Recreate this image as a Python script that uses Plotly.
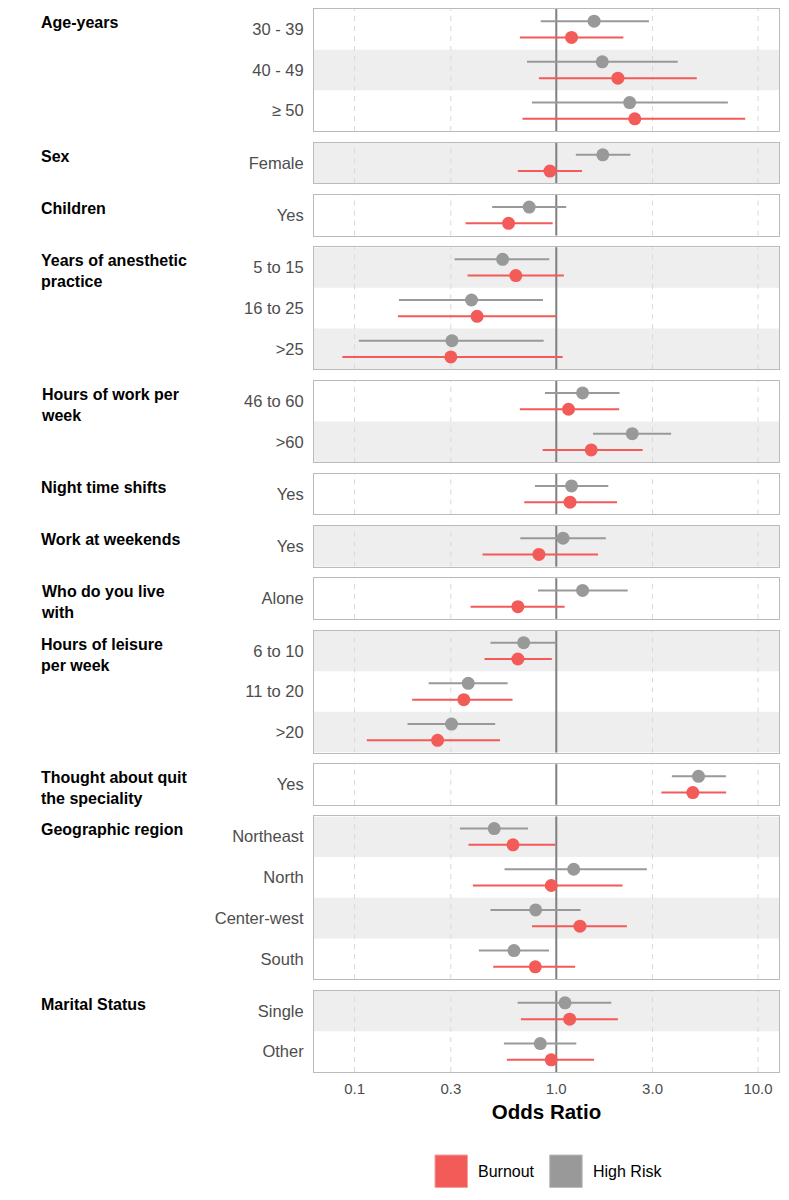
import math
import plotly.graph_objects as go
from plotly.subplots import make_subplots

# ---------------- data ----------------
group_names = [
    "Age-years", "Sex", "Children", "Years of anesthetic<br>practice",
    "Hours of work per<br>week", "Night time shifts", "Work at weekends",
    "Who do you live<br>with", "Hours of leisure<br>per week",
    "Thought about quit<br>the speciality", "Geographic region", "Marital Status",
]
group_sizes = [3, 1, 1, 3, 2, 1, 1, 1, 3, 1, 4, 2]
categories = [
    "30 - 39", "40 - 49", "≥ 50",
    "Female",
    "Yes",
    "5 to 15", "16 to 25", ">25",
    "46 to 60", ">60",
    "Yes",
    "Yes",
    "Alone",
    "6 to 10", "11 to 20", ">20",
    "Yes",
    "Northeast", "North", "Center-west", "South",
    "Single", "Other",
]
burnout_or = [1.19, 2.02, 2.45, 0.93, 0.58, 0.63, 0.405, 0.30, 1.15, 1.49, 1.17, 0.82,
              0.645, 0.645, 0.348, 0.258, 4.75, 0.61, 0.944, 1.31, 0.787, 1.165, 0.944]
burnout_lo = [0.66, 0.82, 0.68, 0.645, 0.355, 0.363, 0.164, 0.087, 0.66, 0.856, 0.694, 0.431,
              0.376, 0.441, 0.193, 0.115, 3.32, 0.367, 0.386, 0.758, 0.487, 0.668, 0.569]
burnout_hi = [2.15, 4.97, 8.64, 1.34, 0.96, 1.09, 1.0, 1.075, 2.05, 2.68, 2.0, 1.61,
              1.10, 0.95, 0.607, 0.526, 6.95, 0.99, 2.13, 2.24, 1.24, 2.02, 1.54]
highrisk_or = [1.54, 1.69, 2.31, 1.70, 0.734, 0.542, 0.38, 0.304, 1.35, 2.38, 1.19, 1.08,
               1.35, 0.689, 0.366, 0.3025, 5.07, 0.4925, 1.22, 0.79, 0.617, 1.105, 0.833]
highrisk_lo = [0.837, 0.716, 0.758, 1.25, 0.481, 0.313, 0.166, 0.105, 0.879, 1.52, 0.784, 0.663,
               0.811, 0.472, 0.233, 0.183, 3.74, 0.333, 0.554, 0.472, 0.4135, 0.643, 0.55]
highrisk_hi = [2.88, 4.0, 7.09, 2.33, 1.12, 0.923, 0.859, 0.866, 2.06, 3.71, 1.81, 1.76,
               2.26, 1.0, 0.574, 0.498, 6.93, 0.724, 2.81, 1.32, 0.92, 1.875, 1.257]
x_ticks = [0.1, 0.3, 1, 3, 10]
x_tick_labels = ["0.1", "0.3", "1.0", "3.0", "10.0"]
reference_or = 1
series = [
    ("High Risk", highrisk_or, highrisk_lo, highrisk_hi, "#999999", -0.2),
    ("Burnout", burnout_or, burnout_lo, burnout_hi, "#F25B57", 0.2),
]

# ---------------- figure ----------------
FONT = "Liberation Sans, Arial, sans-serif"
W, H = 789, 1200
ML, MR, MT, MB = 314, 10, 9, 128
PH = H - MT - MB
PW = W - ML - MR

n_groups = len(group_names)
fig = make_subplots(rows=n_groups, cols=1, shared_xaxes=True,
                    row_heights=group_sizes, vertical_spacing=11.6 / PH)

start = 0
for g in range(n_groups):
    r = g + 1
    n = group_sizes[g]
    sfx = "" if r == 1 else str(r)
    cats = categories[start:start + n]
    # alternating row shading (global)
    for k in range(n):
        if (start + k) % 2 == 1:
            fig.add_shape(type="rect", xref=f"x{sfx} domain", yref=f"y{sfx}",
                          x0=0, x1=1, y0=k - 0.5, y1=k + 0.5,
                          fillcolor="#EEEEEE", line=dict(width=0), layer="below")
    # dashed grid lines
    for t in x_ticks:
        if t == reference_or:
            continue
        fig.add_shape(type="line", xref=f"x{sfx}", yref=f"y{sfx} domain",
                      x0=t, x1=t, y0=0, y1=1,
                      line=dict(color="#D9D9D9", width=1, dash="5px,5px"), layer="below")
    # reference line at OR = 1
    fig.add_shape(type="line", xref=f"x{sfx}", yref=f"y{sfx} domain",
                  x0=reference_or, x1=reference_or, y0=0, y1=1,
                  line=dict(color="#7F7F7F", width=2), layer="below")
    for name, orv, lo, hi, col, off in series:
        xs, ys = [], []
        for k in range(n):
            i = start + k
            xs += [lo[i], hi[i], None]
            ys += [k + off, k + off, None]
        fig.add_trace(go.Scatter(x=xs, y=ys, mode="lines",
                                 line=dict(color=col, width=2),
                                 hoverinfo="skip", showlegend=False), row=r, col=1)
        fig.add_trace(go.Scatter(x=orv[start:start + n], y=[k + off for k in range(n)],
                                 mode="markers", name=name,
                                 marker=dict(color=col, size=13, line=dict(width=0)),
                                 showlegend=False), row=r, col=1)
    fig.update_yaxes(row=r, col=1, range=[n - 0.5, -0.5],
                     tickvals=list(range(n)), ticktext=cats)
    fig.add_annotation(xref="paper", yref=f"y{sfx} domain",
                       x=(38.7 - ML) / PW, y=1, xanchor="left", yanchor="top",
                       yshift=-3, align="left", showarrow=False,
                       text=f"<b>{group_names[g]}</b>",
                       font=dict(family=FONT, size=16, color="#000000"))
    start += n

fig.update_xaxes(type="log", range=[-1.201, 1.104], tickvals=x_ticks, ticktext=x_tick_labels,
                 showgrid=False, showline=True, mirror=True, linecolor="#BBBBBB", linewidth=1,
                 zeroline=False, ticks="outside", ticklen=3, tickcolor="rgba(0,0,0,0)",
                 tickfont=dict(family=FONT, size=15, color="#4D4D4D"))
fig.update_yaxes(showgrid=False, zeroline=False, showline=True, mirror=True,
                 linecolor="#BBBBBB", linewidth=1, ticks="outside", ticklen=6,
                 tickcolor="rgba(0,0,0,0)", tickfont=dict(family=FONT, size=16.5, color="#4D4D4D"))
fig.update_xaxes(row=n_groups, col=1,
                 title=dict(text="<b>Odds Ratio</b>", standoff=8,
                            font=dict(family=FONT, size=20.5, color="#000000")))

# legend (drawn as key squares + labels)
def px_x(px):
    return (px - ML) / PW

def px_y(py):
    return (H - MB - py) / PH

legend_items = [("Burnout", "#F25B57", "#F4A09C", 435, 478.3),
                ("High Risk", "#999999", "#BDBDBD", 549.7, 592.7)]
for lab, col, edge, x0, tx in legend_items:
    fig.add_shape(type="rect", xref="paper", yref="paper",
                  x0=px_x(x0), x1=px_x(x0 + 32.5), y0=px_y(1187.5), y1=px_y(1155),
                  fillcolor=col, line=dict(color=edge, width=1))
    fig.add_annotation(xref="paper", yref="paper", x=px_x(tx - 2), y=px_y(1171),
                       xanchor="left", yanchor="middle", showarrow=False, text=lab,
                       font=dict(family=FONT, size=16, color="#000000"))

fig.update_layout(width=W, height=H, margin=dict(l=ML, r=MR, t=MT, b=MB),
                  paper_bgcolor="white", plot_bgcolor="white", showlegend=False,
                  font=dict(family=FONT))
fig.write_html("out.html")
